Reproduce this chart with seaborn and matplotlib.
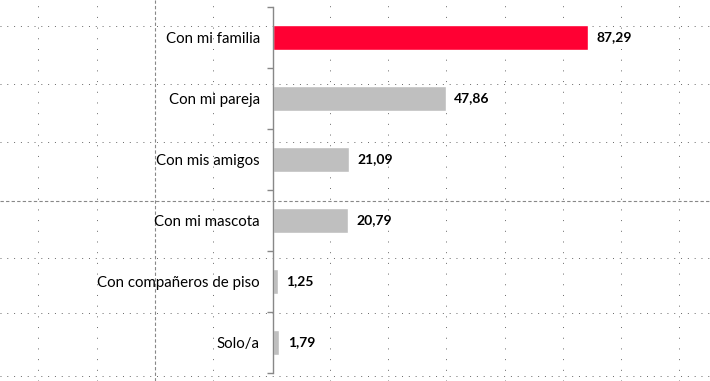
import matplotlib
matplotlib.use("Agg")
import matplotlib.pyplot as plt
import seaborn as sns
import pandas as pd

categories = ["Con mi familia", "Con mi pareja", "Con mis amigos",
              "Con mi mascota", "Con compañeros de piso", "Solo/a"]
values = [87.29, 47.86, 21.09, 20.79, 1.25, 1.79]
value_labels = ["87,29", "47,86", "21,09", "20,79", "1,25", "1,79"]
bar_colors = ["#FF0033", "#BFBFBF", "#BFBFBF", "#BFBFBF", "#BFBFBF", "#BFBFBF"]

sns.set_theme(style="white")
plt.rcParams["font.family"] = ["Lato", "DejaVu Sans"]

W, H = 710, 381
fig = plt.figure(figsize=(W / 100, H / 100), dpi=100)

# background page grid (Excel-like dotted gridlines)
bg = fig.add_axes([0, 0, 1, 1], zorder=0)
bg.set_xlim(0, W)
bg.set_ylim(H, 0)
bg.axis("off")
grid_x = [38, 96.5, 213, 330, 388, 446, 505, 563, 621, 679]
grid_y = [26, 84, 142, 258, 313, 376]
for gx in grid_x:
    bg.axvline(gx, color="#666666", lw=0.7, linestyle=(0, (1, 10)))
for gy in grid_y:
    bg.axhline(gy, color="#666666", lw=0.7, linestyle=(0, (1, 6)))
bg.axvline(155, color="#888888", lw=0.8, linestyle=(0, (3, 2)))
bg.axhline(200.5, color="#888888", lw=0.8, linestyle=(0, (3, 2)))

# main chart
left_px, top_px, bottom_px = 273, 7, 373
ax = fig.add_axes([left_px / W, (H - bottom_px) / H, (W - left_px) / W,
                   (bottom_px - top_px) / H], zorder=1)
ax.patch.set_alpha(0)

df = pd.DataFrame({"cat": categories, "val": values})
sns.barplot(data=df, x="val", y="cat", hue="cat", palette=bar_colors,
            orient="h", width=0.4, legend=False, ax=ax, saturation=1)

px_per_unit = 3.61
ax.set_xlim(0, (W - left_px) / px_per_unit)
ax.set_ylim(len(categories) - 0.5, -0.5)

for i, (v, lab) in enumerate(zip(values, value_labels)):
    ax.annotate(lab, xy=(v, i), xytext=(6, 0), textcoords="offset points",
                ha="left", va="center", fontsize=10, fontweight="bold",
                color="#000000")

for s in ["top", "right", "bottom"]:
    ax.spines[s].set_visible(False)
ax.spines["left"].set_color("#888888")
ax.spines["left"].set_linewidth(1.0)
ax.set_xticks([])
ax.set_xlabel("")
ax.set_ylabel("")
ax.set_yticks(range(len(categories)))
ax.set_yticklabels(categories, fontsize=10.8, color="#000000")
ax.tick_params(axis="y", which="major", length=0, pad=9.5)
ax.set_yticks([i - 0.5 for i in range(len(categories) + 1)], minor=True)
ax.tick_params(axis="y", which="minor", length=4, width=1, color="#888888",
               direction="out", left=True)

fig.savefig("out.png", dpi=100)
